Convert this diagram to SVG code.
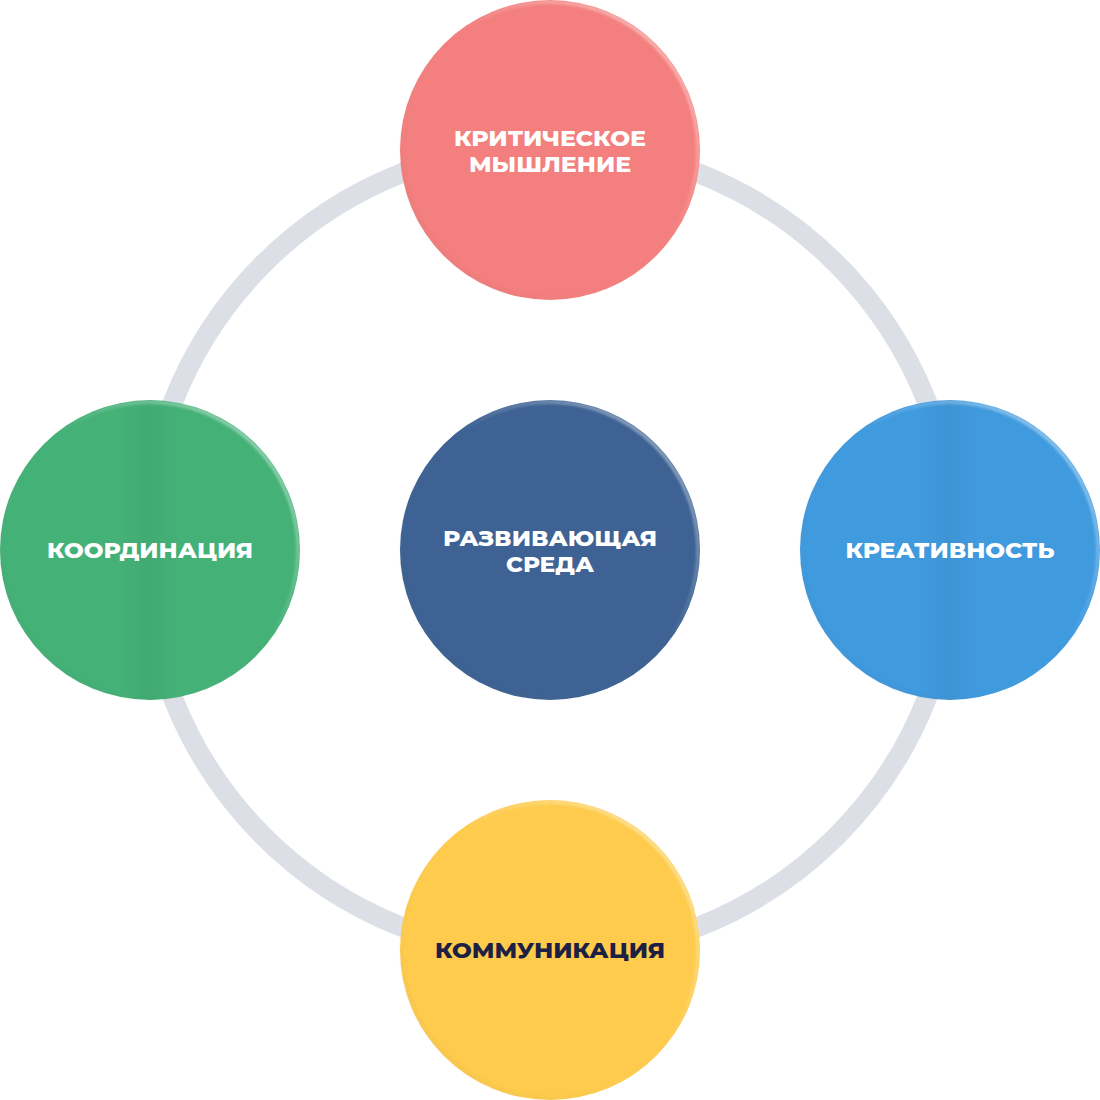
<svg xmlns="http://www.w3.org/2000/svg" width="1100" height="1100" viewBox="0 0 1100 1100">
<defs>
<linearGradient id="rim" x1="1" y1="0" x2="0" y2="1">
<stop offset="0" stop-color="#ffffff" stop-opacity="0.55"/>
<stop offset="0.45" stop-color="#ffffff" stop-opacity="0"/>
<stop offset="1" stop-color="#000000" stop-opacity="0.06"/>
</linearGradient>
<linearGradient id="band" x1="0" y1="0" x2="1" y2="0">
<stop offset="0.4" stop-color="#000" stop-opacity="0"/>
<stop offset="0.5" stop-color="#000" stop-opacity="0.04"/>
<stop offset="0.6" stop-color="#000" stop-opacity="0"/>
</linearGradient>
<filter id="soft" x="-5%" y="-5%" width="110%" height="110%"><feGaussianBlur stdDeviation="1"/></filter>
</defs>
<style>
.lbl{font-family:Montserrat,Inter,"Noto Sans","Liberation Sans",sans-serif;font-weight:800;font-size:21px;text-anchor:middle;fill:#ffffff;}
.dark{fill:#1c2143;}
.rim{fill:none;stroke:url(#rim);stroke-width:4;filter:url(#soft);}
.band{fill:url(#band);}
</style>
<g id="connectors">
<circle cx="550" cy="550" r="405" fill="none" stroke="#dcdfe6" stroke-width="20"/>
</g>
<g id="node-top">
<circle cx="550" cy="150" r="150" fill="#f37f7e"/>
<circle cx="550" cy="150" r="148" class="rim"/>
<text class="lbl" x="550" y="146" textLength="192" lengthAdjust="spacingAndGlyphs">КРИТИЧЕСКОЕ</text>
<text class="lbl" x="550" y="172" textLength="162" lengthAdjust="spacingAndGlyphs">МЫШЛЕНИЕ</text>
</g>
<g id="node-center">
<circle cx="550" cy="550" r="150" fill="#3d6293"/>
<circle cx="550" cy="550" r="148" class="rim"/>
<text class="lbl" x="550" y="546" textLength="214" lengthAdjust="spacingAndGlyphs">РАЗВИВАЮЩАЯ</text>
<text class="lbl" x="550" y="572" textLength="88" lengthAdjust="spacingAndGlyphs">СРЕДА</text>
</g>
<g id="node-right">
<circle cx="950" cy="550" r="150" fill="#409ade"/>
<circle cx="950" cy="550" r="150" class="band"/>
<circle cx="950" cy="550" r="148" class="rim"/>
<text class="lbl" x="950" y="558" textLength="209" lengthAdjust="spacingAndGlyphs">КРЕАТИВНОСТЬ</text>
</g>
<g id="node-left">
<circle cx="150" cy="550" r="150" fill="#44b177"/>
<circle cx="150" cy="550" r="150" class="band"/>
<circle cx="150" cy="550" r="148" class="rim"/>
<text class="lbl" x="150" y="558" textLength="206" lengthAdjust="spacingAndGlyphs">КООРДИНАЦИЯ</text>
</g>
<g id="node-bottom">
<circle cx="550" cy="950" r="150" fill="#fecb4d"/>
<circle cx="550" cy="950" r="148" class="rim"/>
<text class="lbl dark" x="550" y="958" textLength="230" lengthAdjust="spacingAndGlyphs">КОММУНИКАЦИЯ</text>
</g>
</svg>
